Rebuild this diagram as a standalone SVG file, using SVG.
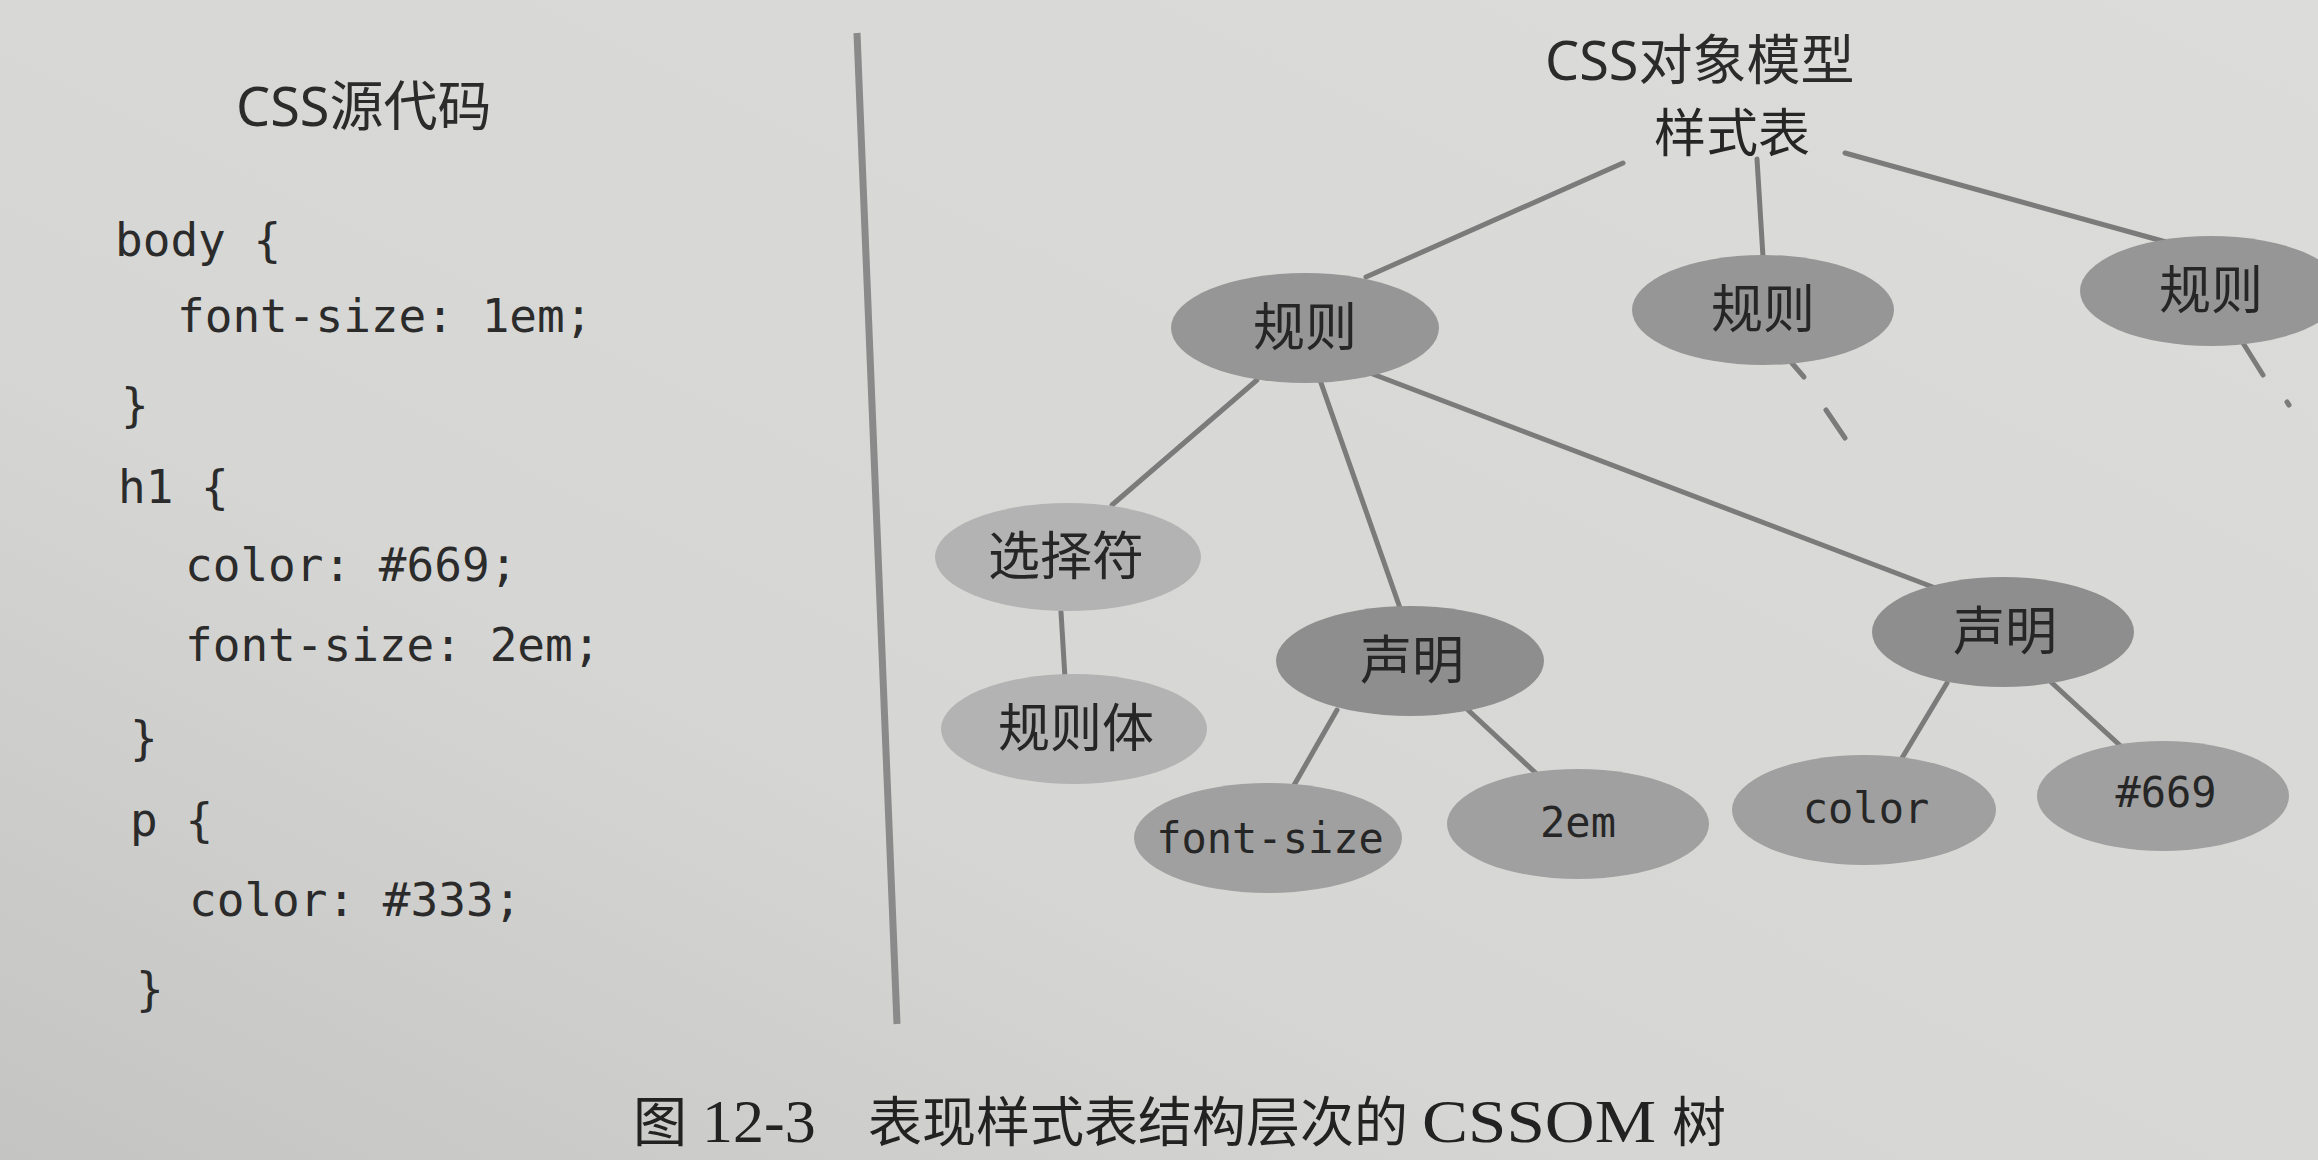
<svg xmlns="http://www.w3.org/2000/svg" width="2318" height="1160" viewBox="0 0 2318 1160">
<defs>
<linearGradient id="paper" x1="0" y1="1" x2="1" y2="0">
<stop offset="0" stop-color="#c4c4c2"/>
<stop offset="0.35" stop-color="#d6d6d4"/>
<stop offset="1" stop-color="#dcdcda"/>
</linearGradient>
<style>
.code{font-family:"DejaVu Sans Mono","Liberation Mono",monospace;font-size:46px;fill:#2b2b2b}
.title{font-family:"Noto Sans","Noto Sans CJK SC",sans-serif;font-size:54px;fill:#2b2b2b}
.lbl{font-family:"Noto Sans CJK SC",sans-serif;font-size:52px;fill:#262626;text-anchor:middle}
.mono{font-family:"DejaVu Sans Mono",monospace;font-size:42px;fill:#262626;text-anchor:middle}
.cap{font-family:"Liberation Serif","Noto Sans CJK SC",serif;font-size:62px;fill:#222}
.capc{font-family:"Noto Sans CJK SC",serif;font-size:54px;fill:#222}
.edge{stroke:#7b7b7b;stroke-width:5;fill:none;stroke-linecap:round}
.rule{fill:#969696}
.decl{fill:#8e8e8e}
.light{fill:#b3b3b3}
.leaf{fill:#a0a0a0}
</style>
</defs>
<rect width="2318" height="1160" fill="url(#paper)"/>

<g id="source-title"><text class="title" x="236" y="126">CSS源代码</text></g>
<g id="source-code">
<text class="code" x="115" y="256">body {</text>
<text class="code" x="177" y="332">font-size: 1em;</text>
<text class="code" x="121" y="421">}</text>
<text class="code" x="118" y="503">h1 {</text>
<text class="code" x="185" y="581">color: #669;</text>
<text class="code" x="185" y="661">font-size: 2em;</text>
<text class="code" x="130" y="754">}</text>
<text class="code" x="130" y="836">p {</text>
<text class="code" x="189" y="916">color: #333;</text>
<text class="code" x="136" y="1005">}</text>
</g>

<line id="divider" x1="857" y1="33" x2="897" y2="1024" stroke="#8a8a8a" stroke-width="7"/>

<g id="model-title"><text class="title" x="1545" y="80">CSS对象模型</text></g>

<g id="connectors">
<line class="edge" x1="1623" y1="163" x2="1366" y2="277"/>
<line class="edge" x1="1757" y1="159" x2="1763" y2="257"/>
<line class="edge" x1="1845" y1="153" x2="2166" y2="242"/>
<line class="edge" x1="1791" y1="362" x2="1804" y2="377"/>
<line class="edge" x1="1826" y1="410" x2="1845" y2="438"/>
<line class="edge" x1="2243" y1="343" x2="2263" y2="375"/>
<line class="edge" x1="2287" y1="402" x2="2289" y2="405"/>
<line class="edge" x1="1257" y1="380" x2="1112" y2="505"/>
<line class="edge" x1="1320" y1="380" x2="1400" y2="608"/>
<line class="edge" x1="1370" y1="373" x2="1938" y2="589"/>
<line class="edge" x1="1061" y1="612" x2="1065" y2="678"/>
<line class="edge" x1="1337" y1="710" x2="1293" y2="787"/>
<line class="edge" x1="1468" y1="710" x2="1540" y2="777"/>
<line class="edge" x1="1947" y1="683" x2="1902" y2="758"/>
<line class="edge" x1="2051" y1="682" x2="2125" y2="750"/>
</g>

<g id="stylesheet"><text class="lbl" x="1732" y="152">样式表</text></g>

<g id="rule1"><ellipse class="rule" cx="1305" cy="328" rx="134" ry="55"/><text class="lbl" x="1305" y="346">规则</text></g>
<g id="rule2"><ellipse class="rule" cx="1763" cy="310" rx="131" ry="55"/><text class="lbl" x="1763" y="328">规则</text></g>
<g id="rule3"><ellipse class="rule" cx="2211" cy="291" rx="131" ry="55"/><text class="lbl" x="2211" y="309">规则</text></g>

<g id="selector"><ellipse class="light" cx="1068" cy="557" rx="133" ry="54"/><text class="lbl" x="1066" y="575">选择符</text></g>
<g id="rulebody"><ellipse class="light" cx="1074" cy="729" rx="133" ry="55"/><text class="lbl" x="1076" y="747">规则体</text></g>

<g id="decl1"><ellipse class="decl" cx="1410" cy="661" rx="134" ry="55"/><text class="lbl" x="1412" y="679">声明</text></g>
<g id="decl2"><ellipse class="decl" cx="2003" cy="632" rx="131" ry="55"/><text class="lbl" x="2005" y="650">声明</text></g>

<g id="prop1"><ellipse class="leaf" cx="1268" cy="838" rx="134" ry="55"/><text class="mono" x="1270" y="853">font-size</text></g>
<g id="val1"><ellipse class="leaf" cx="1578" cy="824" rx="131" ry="55"/><text class="mono" x="1578" y="837">2em</text></g>
<g id="prop2"><ellipse class="leaf" cx="1864" cy="810" rx="132" ry="55"/><text class="mono" x="1866" y="823">color</text></g>
<g id="val2"><ellipse class="leaf" cx="2163" cy="796" rx="126" ry="55"/><text class="mono" x="2166" y="807">#669</text></g>

<g id="caption">
<text class="capc" x="633" y="1142">图</text>
<text class="cap" x="702" y="1142">12-3</text>
<text class="capc" x="868" y="1142" textLength="540" lengthAdjust="spacingAndGlyphs">表现样式表结构层次的</text>
<text class="cap" x="1422" y="1142" textLength="234" lengthAdjust="spacingAndGlyphs">CSSOM</text>
<text class="capc" x="1672" y="1142">树</text>
</g>
</svg>
